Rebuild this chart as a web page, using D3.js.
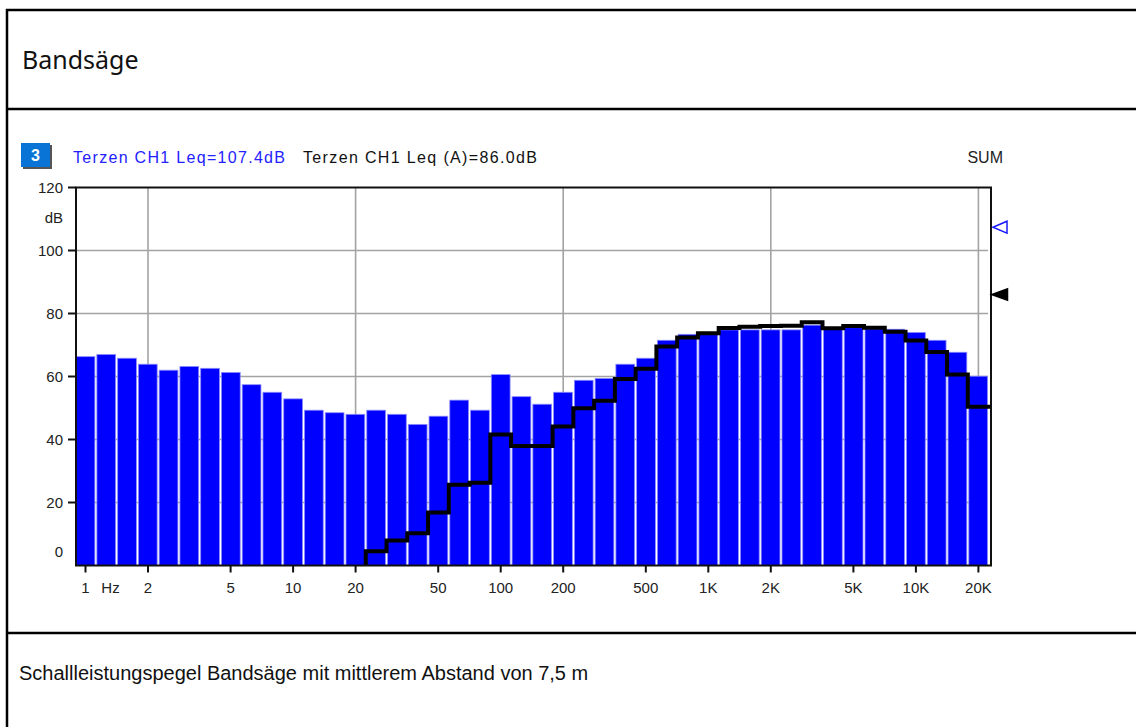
<!DOCTYPE html>
<html>
<head>
<meta charset="utf-8">
<script src="https://cdn.jsdelivr.net/npm/d3@7"></script>
<style>
	body { margin: 0; background: #fff; }
	svg { display: block; }
</style>
</head>
<body>
<svg id="svg_main" width="1136" height="727"></svg>
<script>
// third octave bands, Hz
var freqs = [1, 1.25, 1.6, 2, 2.5, 3.15, 4, 5, 6.3, 8, 10, 12.5, 16, 20, 25, 31.5, 40, 50, 63, 80,
	100, 125, 160, 200, 250, 315, 400, 500, 630, 800, 1000, 1250, 1600, 2000, 2500, 3150, 4000,
	5000, 6300, 8000, 10000, 12500, 16000, 20000];
// Leq per band, dB (blue bars)
var levels = [66.3, 67.0, 65.8, 63.9, 62.0, 63.2, 62.6, 61.3, 57.4, 55.0, 52.9, 49.3, 48.5, 48.0,
	49.3, 48.0, 44.8, 47.4, 52.5, 49.3, 60.6, 53.6, 51.2, 55.0,
	58.8, 59.4, 63.9, 65.8, 71.5, 73.4, 73.9, 74.8, 74.8, 74.8,
	74.8, 76.3, 75.0, 75.5, 75.1, 75.0, 74.0, 71.5, 67.7, 60.1];
// Leq (A) per band, dB (black steps), nothing drawn below 25 Hz
var levelsA = [null, null, null, null, null, null, null, null, null, null, null, null, null, null,
	4.5, 7.9, 10.2, 16.8, 25.6, 26.3, 41.6, 37.9, 37.9, 44.1,
	49.9, 52.3, 59.2, 62.5, 69.5, 72.4, 73.7, 75.4, 75.8, 76.0,
	76.1, 77.2, 75.3, 76.0, 75.5, 74.2, 71.4, 67.8, 60.6, 50.4];

var xTicks = [1, 2, 5, 10, 20, 50, 100, 200, 500, 1000, 2000, 5000, 10000, 20000];
var xTickLabels = ["1", "2", "5", "10", "20", "50", "100", "200", "500", "1K", "2K", "5K", "10K", "20K"];
var xGrid = [2, 20, 200, 2000, 20000];
var yTicks = [20, 40, 60, 80, 100, 120];

var sumLeq = 107.4, sumLeqA = 86.0;
var title = "Bandsäge";
var caption = "Schallleistungspegel Bandsäge mit mittlerem Abstand von 7,5 m";

var font = "'Liberation Sans', Arial, sans-serif";
var svg = d3.select("#svg_main");

// table frame
var frame = svg.append("g").attr("stroke", "black").attr("stroke-width", 2.5);
frame.append("line").attr("x1", 7).attr("x2", 7).attr("y1", 9).attr("y2", 727);
[10, 109, 633].forEach(y => {
	frame.append("line").attr("x1", 6).attr("x2", 1136).attr("y1", y).attr("y2", y);
});

svg.append("text")
	.attr("x", 22).attr("y", 69)
	.attr("font-family", "'Noto Sans', 'Open Sans', sans-serif")
	.attr("font-size", "25px")
	.attr("fill", "#111")
	.text(title);

svg.append("text")
	.attr("x", 19).attr("y", 680)
	.attr("font-family", font)
	.attr("font-size", "20px")
	.attr("fill", "#111")
	.text(caption);

// plot area
var margin = { left: 76, top: 187.5, right: 991, bottom: 565.5 };

var x = d3.scaleLog().domain([0.9, 23000]).range([margin.left, margin.right]),
	y = d3.scaleLinear().domain([0, 120]).range([margin.bottom, margin.top]);

function center(f) { return Math.pow(10, Math.round(10 * Math.log10(f)) / 10); }
function lo(f) { return center(f) * Math.pow(10, -0.05); }
function hi(f) { return center(f) * Math.pow(10, 0.05); }

svg.append("defs").append("clipPath")
	.attr("id", "plotclip")
	.append("rect")
	.attr("x", margin.left).attr("y", margin.top)
	.attr("width", margin.right - margin.left)
	.attr("height", margin.bottom - margin.top);

// grid
var grid = svg.append("g").attr("stroke", "#a3a3a3").attr("stroke-width", 1.6);
yTicks.slice(0, -1).forEach(v => {
	grid.append("line")
		.attr("x1", margin.left).attr("x2", margin.right - 3)
		.attr("y1", y(v)).attr("y2", y(v));
});
xGrid.forEach(f => {
	grid.append("line")
		.attr("x1", x(f)).attr("x2", x(f))
		.attr("y1", margin.top).attr("y2", margin.bottom);
});

// bars
var data = freqs.map((f, i) => ({ f: f, v: levels[i], a: levelsA[i] }));

svg.append("g")
	.attr("clip-path", "url(#plotclip)")
	.selectAll(".bar")
	.data(data)
	.enter().append("rect")
	.attr("class", "bar")
	.attr("x", d => x(lo(d.f)) + 1)
	.attr("width", d => x(hi(d.f)) - x(lo(d.f)) - 2)
	.attr("y", d => y(d.v))
	.attr("height", d => y(0) - y(d.v))
	.attr("fill", "#0000ff")
	.attr("stroke", "#8c8cff")
	.attr("stroke-width", 0.8);

// A-weighted steps
var aData = data.filter(d => d.a != null);
var pts = [[x(lo(aData[0].f)), y(0)]];
aData.forEach(d => {
	pts.push([x(lo(d.f)), y(d.a)]);
	pts.push([x(hi(d.f)), y(d.a)]);
});
pts.push([x.range()[1], y(aData[aData.length - 1].a)]);

svg.append("path")
	.attr("clip-path", "url(#plotclip)")
	.attr("d", d3.line()(pts))
	.attr("fill", "none")
	.attr("stroke", "black")
	.attr("stroke-width", 4)
	.attr("stroke-linejoin", "miter");

// frame of plot
svg.append("rect")
	.attr("x", margin.left).attr("y", margin.top)
	.attr("width", margin.right - margin.left)
	.attr("height", margin.bottom - margin.top)
	.attr("fill", "none")
	.attr("stroke", "#111")
	.attr("stroke-width", 2);

// y axis
var yAxis = svg.append("g").attr("font-family", font).attr("font-size", "15px").attr("fill", "#222");
yTicks.forEach(v => {
	yAxis.append("line")
		.attr("x1", margin.left - 8).attr("x2", margin.left)
		.attr("y1", y(v)).attr("y2", y(v))
		.attr("stroke", "#111").attr("stroke-width", 2);
	yAxis.append("text")
		.attr("x", 63).attr("y", y(v))
		.attr("dy", "0.35em")
		.attr("text-anchor", "end")
		.text(v);
});
yAxis.append("text")
	.attr("x", 63).attr("y", y(0) - 14)
	.attr("dy", "0.35em")
	.attr("text-anchor", "end")
	.text("0");
yAxis.append("text")
	.attr("x", 63).attr("y", (y(120) + y(100)) / 2 - 1)
	.attr("dy", "0.35em")
	.attr("text-anchor", "end")
	.text("dB");

// x axis
var xAxis = svg.append("g").attr("font-family", font).attr("font-size", "15px").attr("fill", "#222");
xTicks.forEach((f, i) => {
	xAxis.append("line")
		.attr("x1", x(f)).attr("x2", x(f))
		.attr("y1", margin.bottom).attr("y2", margin.bottom + 7)
		.attr("stroke", "#111").attr("stroke-width", 2);
	xAxis.append("text")
		.attr("x", x(f)).attr("y", margin.bottom + 22)
		.attr("dy", "0.35em")
		.attr("text-anchor", "middle")
		.text(xTickLabels[i]);
});
xAxis.append("text")
	.attr("x", x(1.32)).attr("y", margin.bottom + 22)
	.attr("dy", "0.35em")
	.attr("text-anchor", "middle")
	.text("Hz");

// header
var head = svg.append("g").attr("font-family", font).attr("font-size", "16px");
head.append("rect").attr("x", 23).attr("y", 145).attr("width", 29).attr("height", 24).attr("fill", "#555");
head.append("rect").attr("x", 21).attr("y", 143).attr("width", 29).attr("height", 24).attr("fill", "#0a74d6");
head.append("text")
	.attr("x", 35.5).attr("y", 155).attr("dy", "0.35em")
	.attr("text-anchor", "middle")
	.attr("font-weight", "bold")
	.attr("fill", "white")
	.text("3");
head.append("text")
	.attr("x", 73).attr("y", 157).attr("dy", "0.35em")
	.attr("fill", "#2222ff")
	.attr("textLength", 212)
	.text(`Terzen CH1 Leq=${sumLeq.toFixed(1)}dB`);
head.append("text")
	.attr("x", 303).attr("y", 157).attr("dy", "0.35em")
	.attr("fill", "#111")
	.attr("textLength", 234)
	.text(`Terzen CH1 Leq (A)=${sumLeqA.toFixed(1)}dB`);
head.append("text")
	.attr("x", 1003).attr("y", 157).attr("dy", "0.35em")
	.attr("text-anchor", "end")
	.attr("fill", "#222")
	.text("SUM");

// Leq markers on the right edge
var mx = margin.right + 2;
svg.append("path")
	.attr("d", `M${mx},${y(sumLeq)} L${mx + 14},${y(sumLeq) - 6} L${mx + 14},${y(sumLeq) + 6} Z`)
	.attr("fill", "white")
	.attr("stroke", "#1a1aff")
	.attr("stroke-width", 1.5);
svg.append("path")
	.attr("d", `M${mx},${y(sumLeqA)} L${mx + 14},${y(sumLeqA) - 5} L${mx + 14},${y(sumLeqA) + 5} Z`)
	.attr("fill", "black")
	.attr("stroke", "black")
	.attr("stroke-width", 2.5);
</script>
</body>
</html>
